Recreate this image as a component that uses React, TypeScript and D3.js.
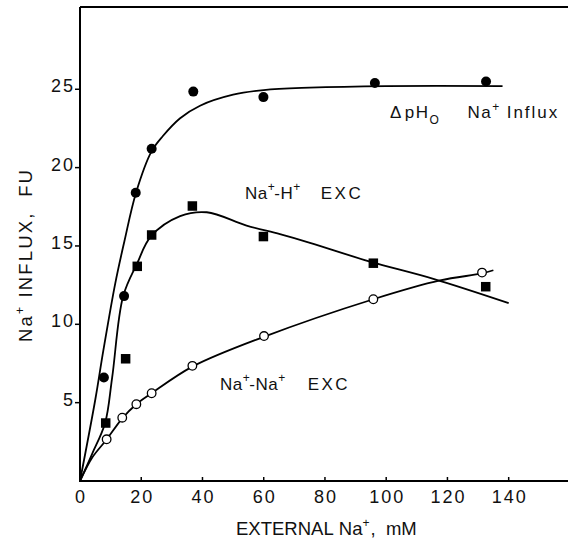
import React from "react";
import * as d3 from "d3";

// ---- data ----
const xTicks = [0, 20, 40, 60, 80, 100, 120, 140];
const yTicks = [5, 10, 15, 20, 25];

// ΔpHo Na+ influx (filled circles)
const phX = [7.8, 14.4, 18.2, 23.4, 37, 59.9, 96.3, 132.6];
const phY = [6.6, 11.8, 18.4, 21.2, 24.85, 24.5, 25.4, 25.5];
// Na+-H+ exchange (filled squares)
const nhX = [8.4, 14.9, 18.7, 23.4, 36.7, 59.9, 95.8, 132.5];
const nhY = [3.7, 7.8, 13.7, 15.7, 17.55, 15.6, 13.9, 12.4];
// Na+-Na+ exchange (open circles)
const nnX = [8.7, 13.8, 18.4, 23.4, 36.7, 60.1, 95.8, 131.3];
const nnY = [2.66, 4.04, 4.9, 5.6, 7.35, 9.25, 11.6, 13.3];

// fitted curves
const phCurveX = [0, 5, 7.6, 11.5, 14.5, 18.3, 23.4, 27, 32.7, 39.2, 50, 60, 75, 100, 138];
const phCurveY = [0, 5.2, 8.3, 12.6, 15.3, 18.4, 21.05, 22.0, 23.15, 23.95, 24.65, 24.95, 25.1, 25.2, 25.2];
const nhCurveX = [0, 4, 8.2, 10.5, 14.1, 18.7, 23.1, 32.7, 41.4, 54.4, 65.3, 75.1, 94.7, 115.4, 140];
const nhCurveY = [0, 1.75, 3.7, 6.6, 11.8, 13.9, 15.6, 16.9, 17.15, 16.3, 15.75, 15.2, 14.0, 12.9, 11.35];
const nnCurveX = [0, 4, 8.7, 13.8, 18.4, 23.4, 36.7, 60, 95.8, 117.6, 131.3, 135];
const nnCurveY = [0, 1.5, 2.65, 4.0, 4.9, 5.6, 7.3, 9.2, 11.6, 12.8, 13.25, 13.45];

const W = 568;
const H = 549;
const FONT = "'Liberation Sans', Arial, Helvetica, sans-serif";
const NB = "\u00A0";

const x = d3.scaleLinear().domain([0, 160]).range([80, 80 + 160 * 3.062]);
const y = d3.scaleLinear().domain([0, 30.25]).range([481, 7]);

const zip = (xs: number[], ys: number[]) => xs.map((v, i) => [v, ys[i]] as [number, number]);

const line = d3
  .line<[number, number]>()
  .x((d) => x(d[0]))
  .y((d) => y(d[1]))
  .curve(d3.curveCatmullRom.alpha(0.5));

export default function App() {
  const x0 = x(0);
  const y0 = y(0);
  const yTop = y(30.25);
  const tickLs = 2;
  return (
    <svg
      width={W}
      height={H}
      style={{ position: "absolute", left: 0, top: 0, background: "#fff" }}
      fontFamily={FONT}
    >
      <rect x={0} y={0} width={W} height={H} fill="#fff" />
      {/* frame */}
      <line x1={x0} y1={yTop} x2={W} y2={yTop} stroke="#000" strokeWidth={2} />
      <line x1={x0} y1={yTop} x2={x0} y2={y0} stroke="#000" strokeWidth={2} />
      <line x1={x0 - 1} y1={y0} x2={W} y2={y0} stroke="#000" strokeWidth={2} />

      {/* y ticks */}
      {yTicks.map((t) => (
        <g key={"yt" + t}>
          <line x1={x0 - 5} x2={x0} y1={y(t)} y2={y(t)} stroke="#000" strokeWidth={1.5} />
          <text
            x={73 + tickLs}
            y={y(t) + 3}
            textAnchor="end"
            fontSize={18}
            letterSpacing={tickLs}
            fill="#111"
          >
            {t}
          </text>
        </g>
      ))}
      {/* x ticks */}
      {xTicks.map((t) => (
        <g key={"xt" + t}>
          {t > 0 && <line x1={x(t)} x2={x(t)} y1={y0} y2={y0 - 4} stroke="#000" strokeWidth={1.5} />}
          <text
            x={x(t) + tickLs / 2}
            y={503}
            textAnchor="middle"
            fontSize={18}
            letterSpacing={tickLs}
            fill="#111"
          >
            {t}
          </text>
        </g>
      ))}

      {/* curves */}
      <path d={line(zip(phCurveX, phCurveY)) || ""} fill="none" stroke="#000" strokeWidth={1.8} />
      <path d={line(zip(nhCurveX, nhCurveY)) || ""} fill="none" stroke="#000" strokeWidth={1.8} />
      <path d={line(zip(nnCurveX, nnCurveY)) || ""} fill="none" stroke="#000" strokeWidth={1.8} />

      {/* markers */}
      {zip(phX, phY).map((d, i) => (
        <circle key={"ph" + i} cx={x(d[0])} cy={y(d[1])} r={5} fill="#000" />
      ))}
      {zip(nhX, nhY).map((d, i) => (
        <rect key={"nh" + i} x={x(d[0]) - 4.75} y={y(d[1]) - 4.75} width={9.5} height={9.5} fill="#000" />
      ))}
      {zip(nnX, nnY).map((d, i) => (
        <circle key={"nn" + i} cx={x(d[0])} cy={y(d[1])} r={4.3} fill="#fff" stroke="#000" strokeWidth={1.3} />
      ))}

      {/* series labels */}
      <text x={390} y={118} fontSize={17} letterSpacing={1.5} fill="#111">
        <tspan>Δ</tspan>
        <tspan dx={2}>pH</tspan>
        <tspan fontSize={12} dy={6}>O</tspan>
        <tspan dy={-6} dx={27}>Na</tspan>
        <tspan fontSize={12} dy={-7}>+</tspan>
        <tspan dy={7} dx={6} letterSpacing={2}>Influx</tspan>
      </text>
      <text x={245} y={199} fontSize={17} letterSpacing={0.5} fill="#111">
        <tspan>Na</tspan>
        <tspan fontSize={12} dy={-8}>+</tspan>
        <tspan dy={8} dx={-1}>-H</tspan>
        <tspan fontSize={12} dy={-8}>+</tspan>
        <tspan dy={8} dx={20} letterSpacing={2.5}>EXC</tspan>
      </text>
      <text x={220} y={390} fontSize={17} letterSpacing={0.5} fill="#111">
        <tspan>Na</tspan>
        <tspan fontSize={12} dy={-8}>+</tspan>
        <tspan dy={8} dx={-1}>-Na</tspan>
        <tspan fontSize={12} dy={-8}>+</tspan>
        <tspan dy={8} dx={22} letterSpacing={2.5}>EXC</tspan>
      </text>

      {/* axis titles */}
      <text x={236} y={535} fontSize={18.5} fill="#111">
        <tspan>{"EXTERNAL" + NB + "Na"}</tspan>
        <tspan fontSize={12} dy={-8}>+</tspan>
        <tspan dy={8} dx={1}>{"," + NB + NB + "mM"}</tspan>
      </text>
      <text
        transform="translate(32,256) rotate(-90)"
        textAnchor="middle"
        fontSize={18.5}
        fill="#111"
        textLength={172}
        lengthAdjust="spacing"
      >
        <tspan>Na</tspan>
        <tspan fontSize={12} dy={-8}>+</tspan>
        <tspan dy={8}>{NB + "INFLUX," + NB + NB + "FU"}</tspan>
      </text>
    </svg>
  );
}
